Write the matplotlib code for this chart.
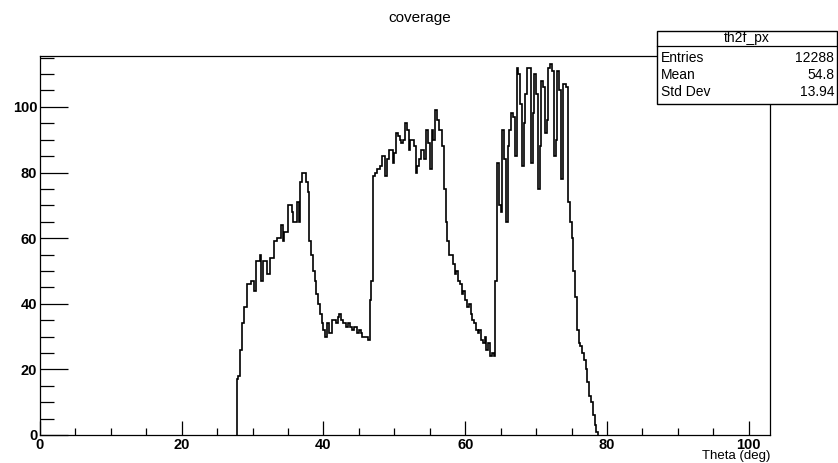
import numpy as np
import matplotlib
matplotlib.use("Agg")
import matplotlib.pyplot as plt
from matplotlib.ticker import MultipleLocator

# histogram th2f_px, bins of 0.25 deg starting at 27.75 deg
theta_start = 27.75
bin_width = 0.25
counts = [
    17,
    18, 26, 34, 39,
    39, 46, 46, 47,
    47, 44, 53, 53,
    55, 47, 53, 53,
    49, 49, 54, 54,
    59, 59, 60, 60,
    64, 59, 62, 62,
    70, 70, 68, 65,
    65, 71, 65, 77,
    80, 80, 77, 74,
    59, 55, 50, 47,
    43, 40, 37, 34,
    32, 30, 34, 31,
    31, 35, 35, 34,
    36, 37, 35, 34,
    34, 33, 34, 33,
    32, 33, 33, 31,
    32, 31, 30, 30,
    30, 29, 41, 47,
    79, 80, 81, 81,
    82, 85, 85, 79,
    84, 87, 87, 83,
    86, 92, 91, 90,
    89, 90, 95, 93,
    87, 90, 90, 88,
    80, 82, 84, 87,
    87, 84, 93, 89,
    81, 93, 90, 99,
    96, 93, 93, 88,
    75, 65, 59, 55,
    55, 52, 49, 50,
    47, 46, 43, 44,
    41, 39, 40, 37,
    35, 34, 32, 31,
    32, 29, 28, 30,
    26, 28, 24, 25,
    24, 47, 83, 70,
    68, 93, 84, 65,
    88, 93, 98, 97,
    85, 112, 110, 101,
    82, 95, 104, 112,
    112, 83, 98, 110,
    104, 75, 88, 108,
    106, 92, 96, 112,
    113, 111, 85, 90,
    111, 105, 78, 107,
    107, 106, 71, 65,
    60, 50, 42, 32,
    28, 27, 25, 23,
    20, 16, 12, 10,
    6, 3, 1,
]

hist_name = "th2f_px"
stat_labels = ["Entries", "Mean", "Std Dev"]
stat_values = ["12288", "54.8", "13.94"]

plt.rcParams['font.family'] = ['Liberation Sans', 'DejaVu Sans']

fig = plt.figure(figsize=(8.38, 4.63), dpi=100)
ax = fig.add_axes([0.0477, 0.0605, 0.8711, 0.8185])

edges = theta_start + bin_width * np.arange(len(counts) + 1)
ax.stairs(counts, edges, color='black', linewidth=1.2)

ax.set_xlim(0, 103)
ax.set_ylim(0, 115.5)
ax.xaxis.set_major_locator(MultipleLocator(20))
ax.xaxis.set_minor_locator(MultipleLocator(5))
ax.yaxis.set_major_locator(MultipleLocator(20))
ax.yaxis.set_minor_locator(MultipleLocator(5))
ax.tick_params(which='both', direction='in', top=False, right=False,
               labelsize=10.5, width=0.9)
ax.tick_params(axis='x', which='major', length=10, pad=2)
ax.tick_params(axis='x', which='minor', length=5)
ax.tick_params(axis='y', which='major', length=20, pad=2)
ax.tick_params(axis='y', which='minor', length=10)
for lab in ax.get_xticklabels() + ax.get_yticklabels():
    lab.set_fontweight('bold')
for s in ax.spines.values():
    s.set_linewidth(0.9)

ax.set_xlabel("Theta (deg)", loc='right', fontsize=9.5, labelpad=-1)
fig.text(0.501, 0.962, "coverage", ha='center', va='center', fontsize=11)

# stats box
bx0, by0 = 657 / 838, 1 - 104 / 463
bx1, by1 = 837 / 838, 1 - 31 / 463
box = plt.Rectangle((bx0, by0), bx1 - bx0, by1 - by0, transform=fig.transFigure,
                    facecolor='white', edgecolor='black', linewidth=1.0, zorder=5)
fig.patches.append(box)
fig.add_artist(plt.Line2D([bx0, bx1], [1 - 46 / 463] * 2, color='black', lw=0.9, zorder=6))
fig.text((bx0 + bx1) / 2, 1 - 38 / 463, hist_name, ha='center', va='center', fontsize=10, zorder=7)
for i, (lab, val) in enumerate(zip(stat_labels, stat_values)):
    yy = 1 - (58 + 17 * i) / 463
    fig.text(661 / 838, yy, lab, ha='left', va='center', fontsize=10, zorder=7)
    fig.text(834 / 838, yy, val, ha='right', va='center', fontsize=10, zorder=7)

fig.savefig("out.png", dpi=100, facecolor='white')
